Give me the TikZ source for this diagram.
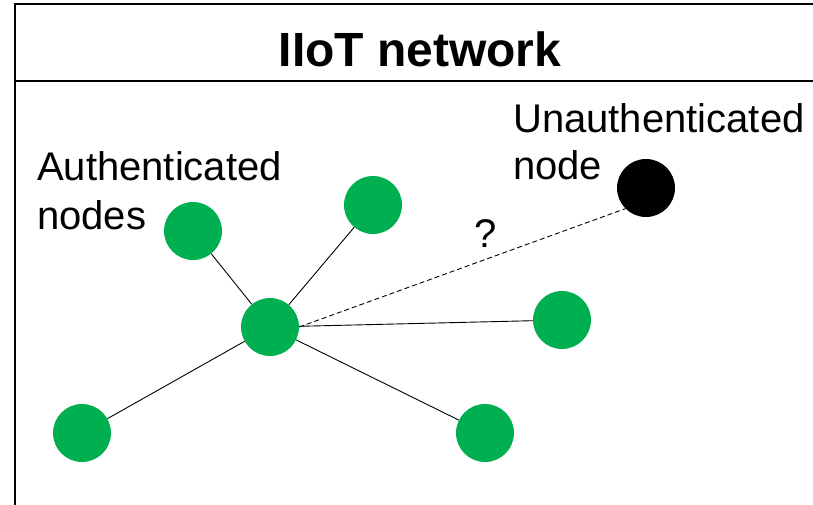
\documentclass[tikz,border=0pt]{standalone}
\usepackage{fontspec}
\setmainfont{Liberation Sans}
\definecolor{nodegreen}{HTML}{00B050}
\begin{document}
\begin{tikzpicture}[x=1pt,y=-1pt,
  authnode/.style={circle,fill=nodegreen,draw=none,minimum size=58pt,inner sep=0pt},
  unauthnode/.style={circle,fill=black,draw=none,minimum size=58pt,inner sep=0pt},
  label text/.style={inner sep=0pt,anchor=base west,font=\fontsize{40}{48}\selectfont},
  link/.style={line width=0.9pt,black},
  probe/.style={line width=0.9pt,black,dash pattern=on 5pt off 3pt},
  frame/.style={line width=2pt,black}]
  \useasboundingbox (0,0) rectangle (813,505);
  \begin{scope}
    \clip (0,0) rectangle (813,505);
    % network frame with title bar
    \draw[frame] (15,520) -- (15,4) -- (830,4);
    \draw[frame] (15,81) -- (830,81);
  \end{scope}
  \node[inner sep=0pt,anchor=base,font=\fontsize{48}{58}\selectfont\bfseries] (title) at (420,67) {IIoT network};

  % authenticated nodes
  \node[authnode] (c)  at (270,327) {};
  \node[authnode] (n1) at (193,231) {};
  \node[authnode] (n2) at (373,205) {};
  \node[authnode] (n3) at (562,320) {};
  \node[authnode] (n4) at (82,433) {};
  \node[authnode] (n5) at (485,433) {};
  % unauthenticated node
  \node[unauthnode] (u) at (646,188) {};

  \draw[link] (c) -- (n1);
  \draw[link] (c) -- (n2);
  \draw[link] (c) -- (n3);
  \draw[link] (c) -- (n4);
  \draw[link] (c) -- (n5);
  \draw[probe] (c.east) -- (u.225);

  % labels
  \node[label text] (auth1) at (37,180) {Authenticated};
  \node[label text] (auth2) at (37,229) {nodes};
  \node[label text] (unauth1) at (513,133) {Unauthenticated};
  \node[label text] (unauth2) at (513,179) {node};
  \node[label text] (q) at (474,247) {?};
\end{tikzpicture}
\end{document}
